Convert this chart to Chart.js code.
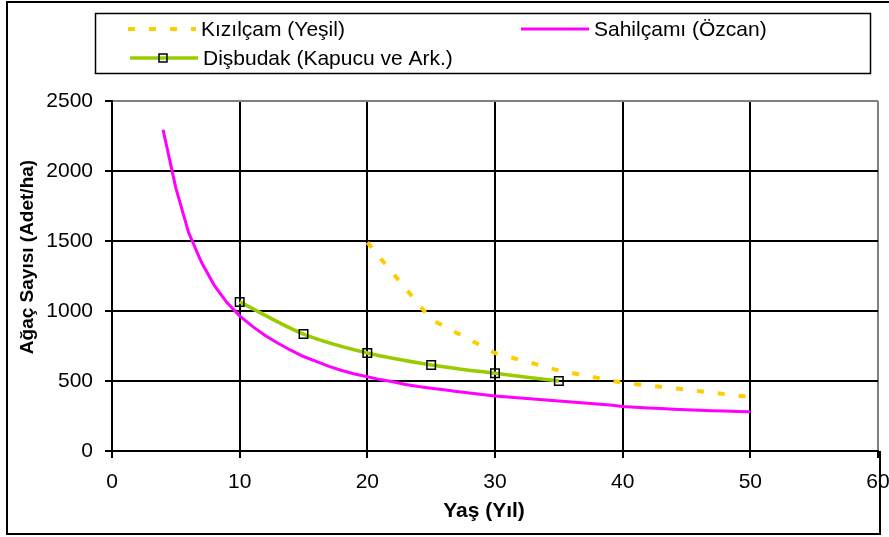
<!DOCTYPE html>
<html>
<head>
<meta charset="utf-8">
<script src="https://cdn.jsdelivr.net/npm/chart.js@4.4.1/dist/chart.umd.min.js"></script>
<style>
  html, body { margin: 0; padding: 0; background: #fff; }
</style>
</head>
<body>
<canvas id="treeChart" width="889" height="537"></canvas>
<script>
// values
const kizilcamAges = [20, 25, 30, 35, 40, 45, 50];
const kizilcamTrees = [1490, 940, 700, 575, 487, 438, 385];

const sahilcamiAges = [4, 5, 6, 7, 8, 9, 10, 11, 12, 13, 14, 15, 16, 17, 18, 19, 20, 21, 22, 23, 24, 25, 26, 27,
  28, 29, 30, 31, 32, 33, 34, 35, 36, 37, 38, 39, 40, 41, 42, 43, 44, 45, 46, 47, 48, 49, 50];
const sahilcamiTrees = [2295, 1880, 1560, 1350, 1185, 1060, 965, 890, 825, 770, 720, 675, 640, 605, 575, 550,
  530, 510, 495, 475, 460, 448, 437, 425, 414, 403, 393, 385, 378, 371, 365, 357, 350, 343, 336, 328,
  318, 313, 308, 303, 299, 295, 291, 288, 285, 282, 280];

const disbudakAges = [10, 15, 20, 25, 30, 35];
const disbudakTrees = [1065, 835, 700, 615, 555, 500];

const xTicks = { min: 0, max: 60, step: 10 };
const yTicks = { min: 0, max: 2500, step: 500 };

const seriesNames = ["Kızılçam (Yeşil)", "Sahilçamı (Özcan)", "Dişbudak (Kapucu ve Ark.)"];
const xTitle = "Yaş (Yıl)";
const yTitle = "Ağaç Sayısı (Adet/ha)";

const FONT = '"Liberation Sans", Arial, sans-serif';

function toPoints(xs, ys) {
  return xs.map((x, i) => ({ x: x, y: ys[i] }));
}

const frameAndLegend = {
  id: "frameAndLegend",
  afterDraw(chart) {
    const ctx = chart.ctx;
    const ds = chart.data.datasets;
    ctx.save();

    // outer frame
    ctx.strokeStyle = "#000";
    ctx.lineWidth = 2;
    ctx.beginPath();
    ctx.moveTo(889, 2);
    ctx.lineTo(7, 2);
    ctx.lineTo(7, 534);
    ctx.lineTo(880, 534);
    ctx.lineTo(880, chart.chartArea.bottom);
    ctx.stroke();

    // axis titles
    ctx.fillStyle = "#000";
    ctx.font = "bold 21px " + FONT;
    ctx.textAlign = "center";
    ctx.textBaseline = "middle";
    ctx.fillText(xTitle, 484, 511);
    ctx.save();
    ctx.translate(28, 257);
    ctx.rotate(-Math.PI / 2);
    ctx.font = "bold 19px " + FONT;
    ctx.fillText(yTitle, 0, 0);
    ctx.restore();

    // legend box
    ctx.lineWidth = 1.5;
    ctx.strokeStyle = "#000";
    ctx.strokeRect(95.5, 13.5, 775, 60);

    const items = [
      { ds: ds[0], x: 128, y: 29 },
      { ds: ds[1], x: 521, y: 29 },
      { ds: ds[2], x: 130, y: 58 },
    ];
    items.forEach((it) => {
      ctx.save();
      ctx.strokeStyle = it.ds.borderColor;
      ctx.lineWidth = it.ds.borderWidth;
      ctx.setLineDash(it.ds.borderDash || []);
      ctx.beginPath();
      ctx.moveTo(it.x, it.y);
      ctx.lineTo(it.x + 68, it.y);
      ctx.stroke();
      ctx.restore();
      if (it.ds.pointRadius > 0) {
        ctx.save();
        ctx.strokeStyle = "#000";
        ctx.lineWidth = 1.5;
        ctx.strokeRect(it.x + 29, it.y - 4, 8, 8);
        ctx.restore();
      }
      ctx.font = "21px " + FONT;
      ctx.textAlign = "left";
      ctx.textBaseline = "middle";
      ctx.fillStyle = "#000";
      ctx.fillText(it.ds.label, it.x + 73, it.y + 1);
    });

    ctx.restore();
  },
};

Chart.defaults.font.family = FONT;
Chart.defaults.font.size = 21;
Chart.defaults.color = "#000";

new Chart(document.getElementById("treeChart"), {
  type: "scatter",
  data: {
    datasets: [
      {
        label: seriesNames[0],
        data: toPoints(kizilcamAges, kizilcamTrees),
        showLine: true,
        borderColor: "#FFCC00",
        borderWidth: 4,
        borderDash: [7, 14],
        pointRadius: 0,
        tension: 0,
      },
      {
        label: seriesNames[1],
        data: toPoints(sahilcamiAges, sahilcamiTrees),
        showLine: true,
        borderColor: "#FF00FF",
        borderWidth: 3,
        pointRadius: 0,
        tension: 0,
      },
      {
        label: seriesNames[2],
        data: toPoints(disbudakAges, disbudakTrees),
        showLine: true,
        borderColor: "#99CC00",
        borderWidth: 3.5,
        pointStyle: "rect",
        pointRadius: 6,
        pointBorderColor: "#000",
        pointBackgroundColor: "rgba(0,0,0,0)",
        pointBorderWidth: 1.5,
        tension: 0.3,
      },
    ],
  },
  options: {
    responsive: false,
    animation: false,
    layout: { padding: { top: 101, right: 11, bottom: 0, left: 0 } },
    plugins: {
      legend: { display: false },
      tooltip: { enabled: false },
    },
    scales: {
      x: {
        type: "linear",
        min: xTicks.min,
        max: xTicks.max,
        ticks: { stepSize: xTicks.step, padding: 12, maxRotation: 0, callback: (v) => String(v) },
        grid: {
          color: (c) => (c.tick && c.tick.value === xTicks.max ? "#808080" : "#000"),
          lineWidth: 2,
          tickLength: 7,
          tickColor: "#000",
        },
        border: { color: "#000", width: 2 },
        afterFit: (s) => {
          s.height = 86;
          s.paddingLeft = 0;
          s.paddingRight = 0;
        },
      },
      y: {
        type: "linear",
        min: yTicks.min,
        max: yTicks.max,
        ticks: { stepSize: yTicks.step, padding: 12, callback: (v) => String(v) },
        grid: {
          color: (c) => (c.tick && c.tick.value === yTicks.max ? "#808080" : "#000"),
          lineWidth: 2,
          tickLength: 7,
          tickColor: "#000",
        },
        border: { color: "#000", width: 2 },
        afterFit: (s) => {
          s.width = 112;
          s.paddingTop = 0;
          s.paddingBottom = 0;
        },
      },
    },
  },
  plugins: [frameAndLegend],
});
</script>
</body>
</html>
